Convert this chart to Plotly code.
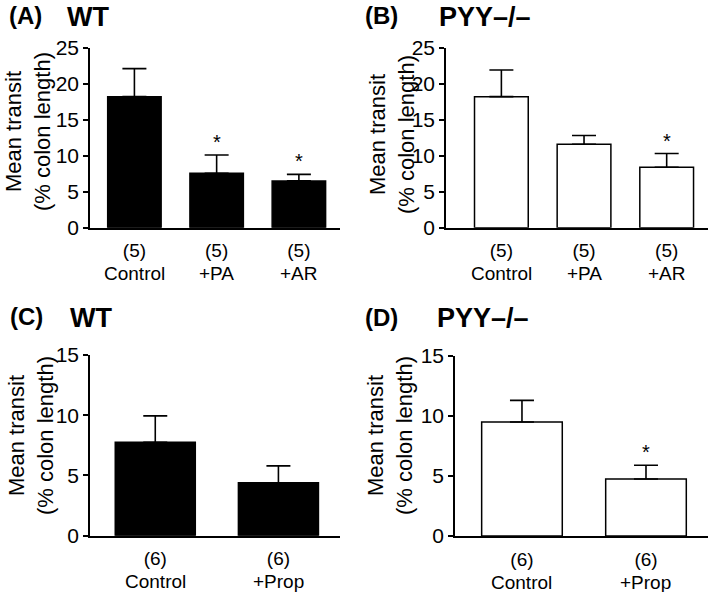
import plotly.graph_objects as go

FONT = "Arial, Liberation Sans, sans-serif"

# ---------------- data ----------------
cats_ab = ["Control", "+PA", "+AR"]
n_ab = ["(5)", "(5)", "(5)"]
wt_ab_mean = [18.2, 7.55, 6.5]
wt_ab_sem = [3.9, 2.55, 0.9]
wt_ab_sig = [False, True, True]
ko_ab_mean = [18.2, 11.6, 8.4]
ko_ab_sem = [3.7, 1.2, 1.9]
ko_ab_sig = [False, False, True]

cats_cd = ["Control", "+Prop"]
n_cd = ["(6)", "(6)"]
wt_cd_mean = [7.75, 4.4]
wt_cd_sem = [2.2, 1.4]
wt_cd_sig = [False, False]
ko_cd_mean = [9.5, 4.75]
ko_cd_sem = [1.8, 1.15]
ko_cd_sig = [False, True]

W, H = 709, 592

def fx(px):
    return px / W

def fy(py):
    return 1 - py / H

panels = [
    dict(ax="", cats=cats_ab, n=n_ab, mean=wt_ab_mean, sem=wt_ab_sem, sig=wt_ab_sig, fill="black",
         xd=(90, 340), yd=(47.7, 227.7), xr=[-0.54, 2.5], yr=[0, 25], dt=5,
         letter="(A)", label="WT", lx=7, ly=0, tx=65, ty=0, ytx=28, yty=132, top=True),
    dict(ax="2", cats=cats_ab, n=n_ab, mean=ko_ab_mean, sem=ko_ab_sem, sig=ko_ab_sig, fill="white",
         xd=(446, 708), yd=(47.7, 227.7), xr=[-0.67, 2.5], yr=[0, 25], dt=5,
         letter="(B)", label="PYY\u2013/\u2013", lx=363, ly=0, tx=437, ty=0, ytx=392, yty=135, top=True),
    dict(ax="3", cats=cats_cd, n=n_cd, mean=wt_cd_mean, sem=wt_cd_sem, sig=wt_cd_sig, fill="black",
         xd=(90, 340), yd=(355, 535.7), xr=[-0.53, 1.5], yr=[0, 15], dt=5,
         letter="(C)", label="WT", lx=8, ly=316, tx=68, ty=318, ytx=31, yty=436, top=False),
    dict(ax="4", cats=cats_cd, n=n_cd, mean=ko_cd_mean, sem=ko_cd_sem, sig=ko_cd_sig, fill="white",
         xd=(455, 708), yd=(356, 536), xr=[-0.54, 1.5], yr=[0, 15], dt=5,
         letter="(D)", label="PYY\u2013/\u2013", lx=363, ly=317, tx=435, ty=318, ytx=390, yty=436, top=False),
]

fig = go.Figure()
annotations = []
layout = {}

for p in panels:
    a = p["ax"]
    xs = list(range(len(p["cats"])))
    fig.add_trace(go.Bar(
        x=xs, y=p["mean"], width=0.65,
        marker=dict(color=p["fill"], line=dict(color="black", width=1.5)),
        error_y=dict(type="data", array=p["sem"], arrayminus=[0] * len(xs), symmetric=False,
                     color="black", thickness=1.6, width=12),
        xaxis="x" + a, yaxis="y" + a, showlegend=False, hoverinfo="skip",
    ))
    layout["xaxis" + a] = dict(
        domain=[fx(p["xd"][0]), fx(p["xd"][1])], anchor="y" + a, range=p["xr"],
        tickmode="array", tickvals=xs, ticktext=p["n"], ticks="", showgrid=False, zeroline=False,
        showline=True, linecolor="black", linewidth=1.5, ticklabelstandoff=5, automargin=False,
        tickfont=dict(family=FONT, size=19, color="black"), fixedrange=True,
    )
    layout["yaxis" + a] = dict(
        domain=[fy(p["yd"][1]), fy(p["yd"][0])], anchor="x" + a, range=p["yr"], dtick=p["dt"],
        tick0=0, ticks="outside", ticklen=5, tickwidth=1.5, tickcolor="black", showgrid=False,
        zeroline=False, showline=True, linecolor="black", linewidth=1.5, automargin=False,
        tickfont=dict(family=FONT, size=21, color="black"), fixedrange=True,
    )
    for x, c in zip(xs, p["cats"]):
        annotations.append(dict(x=x, y=0, xref="x" + a, yref="y" + a, text=c, showarrow=False,
                                yanchor="middle", yshift=-46,
                                font=dict(family=FONT, size=19, color="black")))
    for x, m, s, sg in zip(xs, p["mean"], p["sem"], p["sig"]):
        if sg:
            annotations.append(dict(x=x, y=m + s, xref="x" + a, yref="y" + a, text="*",
                                    showarrow=False, yanchor="middle", yshift=13,
                                    font=dict(family=FONT, size=20, color="black")))
    annotations.append(dict(x=fx(p["ytx"]), y=fy(p["yty"]), xref="paper", yref="paper",
                            text="Mean transit<br>(% colon length)", textangle=-90,
                            showarrow=False, xanchor="center", yanchor="middle",
                            font=dict(family=FONT, size=22, color="black")))
    ya = "top" if p["top"] else "middle"
    annotations.append(dict(x=fx(p["lx"]), y=fy(p["ly"]), xref="paper", yref="paper",
                            text="<b>" + p["letter"] + "</b>", showarrow=False,
                            xanchor="left", yanchor=ya,
                            font=dict(family=FONT, size=24, color="black")))
    annotations.append(dict(x=fx(p["tx"]), y=fy(p["ty"]), xref="paper", yref="paper",
                            text="<b>" + p["label"] + "</b>", showarrow=False,
                            xanchor="left", yanchor=ya,
                            font=dict(family=FONT, size=27, color="black")))

fig.update_layout(
    template="none",
    width=W, height=H, margin=dict(l=0, r=0, t=0, b=0, pad=0),
    paper_bgcolor="white", plot_bgcolor="white",
    annotations=annotations, **layout,
)

fig.write_html(
    "out.html",
    config={"displayModeBar": False},
    post_script="document.body.style.margin='0';document.body.style.padding='0';"
                "document.body.style.overflow='hidden';",
)
